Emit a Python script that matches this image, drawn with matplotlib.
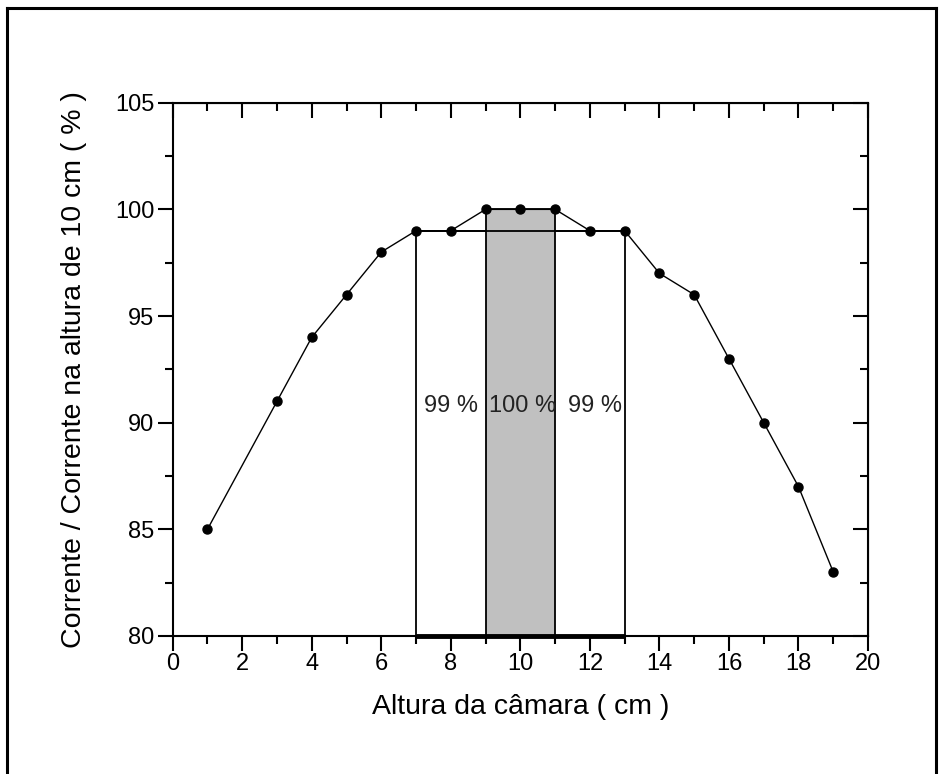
import matplotlib
matplotlib.use('Agg')
import matplotlib.pyplot as plt
from matplotlib.patches import Rectangle
from matplotlib.ticker import MultipleLocator
from matplotlib.lines import Line2D

plt.rcParams['font.family'] = ['Liberation Sans', 'DejaVu Sans']

# dados
altura = [1, 3, 4, 5, 6, 7, 8, 9, 10, 11, 12, 13, 14, 15, 16, 17, 18, 19]
corrente = [85, 91, 94, 96, 98, 99, 99, 100, 100, 100, 99, 99, 97, 96, 93, 90, 87, 83]

faixa_99 = [7, 13]      # região de 99 %
faixa_100 = [9, 11]     # região de 100 %
nivel_99 = 99
nivel_100 = 100
rotulos = ['99 %', '100 %', '99 %']
rotulos_x = [8, 10.05, 12.15]
rotulos_y = 90.8

fig = plt.figure(figsize=(9.43, 7.74), dpi=100)
ax = fig.add_axes([0.1831, 0.1783, 0.7374, 0.689])

ymin = 80
ax.add_patch(Rectangle((faixa_99[0], ymin), faixa_99[1] - faixa_99[0], nivel_99 - ymin,
                       facecolor='white', edgecolor='black', lw=1.3, zorder=1))
ax.add_patch(Rectangle((faixa_100[0], ymin), faixa_100[1] - faixa_100[0], nivel_100 - ymin,
                       facecolor='#c0c0c0', edgecolor='black', lw=1.3, zorder=2))
ax.hlines(nivel_99, faixa_99[0], faixa_99[1], color='black', lw=1.3, zorder=3)
ax.hlines(ymin, faixa_99[0], faixa_99[1], color='black', lw=3.5, zorder=3, clip_on=False)

ax.plot(altura, corrente, color='black', lw=1.0, marker='o', markersize=6.5,
        markerfacecolor='black', markeredgecolor='black', zorder=4)

for xt, t in zip(rotulos_x, rotulos):
    ax.text(xt, rotulos_y, t, ha='center', va='center', fontsize=17, color='#222222', zorder=5)

ax.set_xlim(0, 20)
ax.set_ylim(80, 105)
ax.xaxis.set_major_locator(MultipleLocator(2))
ax.xaxis.set_minor_locator(MultipleLocator(1))
ax.yaxis.set_major_locator(MultipleLocator(5))
ax.yaxis.set_minor_locator(MultipleLocator(2.5))

for s in ax.spines.values():
    s.set_linewidth(1.5)

ax.tick_params(which='both', direction='out', width=1.5, labelsize=17)
ax.tick_params(which='major', length=11)
ax.tick_params(which='minor', length=6)
ax.tick_params(axis='x', pad=1)
ax.tick_params(axis='y', pad=2)

# eixos de cima e da direita com ticks para dentro
top = ax.secondary_xaxis('top')
top.xaxis.set_major_locator(MultipleLocator(2))
top.xaxis.set_minor_locator(MultipleLocator(1))
top.tick_params(which='both', direction='in', width=1.5, labeltop=False)
top.tick_params(which='major', length=11)
top.tick_params(which='minor', length=6)
right = ax.secondary_yaxis('right')
right.yaxis.set_major_locator(MultipleLocator(5))
right.yaxis.set_minor_locator(MultipleLocator(2.5))
right.tick_params(which='both', direction='in', width=1.5, labelright=False)
right.tick_params(which='major', length=11)
right.tick_params(which='minor', length=6)

ax.set_xlabel('Altura da câmara ( cm )', fontsize=20.5, labelpad=14)
ax.set_ylabel('Corrente / Corrente na altura de 10 cm ( % )', fontsize=20.5, labelpad=20)

# moldura da figura
fig.add_artist(Line2D([7 / 943, 7 / 943], [0, 1 - 8 / 774], transform=fig.transFigure, color='black', lw=2.2))
fig.add_artist(Line2D([7 / 943, 936 / 943], [1 - 8 / 774, 1 - 8 / 774], transform=fig.transFigure, color='black', lw=2.2))
fig.add_artist(Line2D([936 / 943, 936 / 943], [0, 1 - 8 / 774], transform=fig.transFigure, color='black', lw=2.2))

fig.savefig('out.png', dpi=100)
